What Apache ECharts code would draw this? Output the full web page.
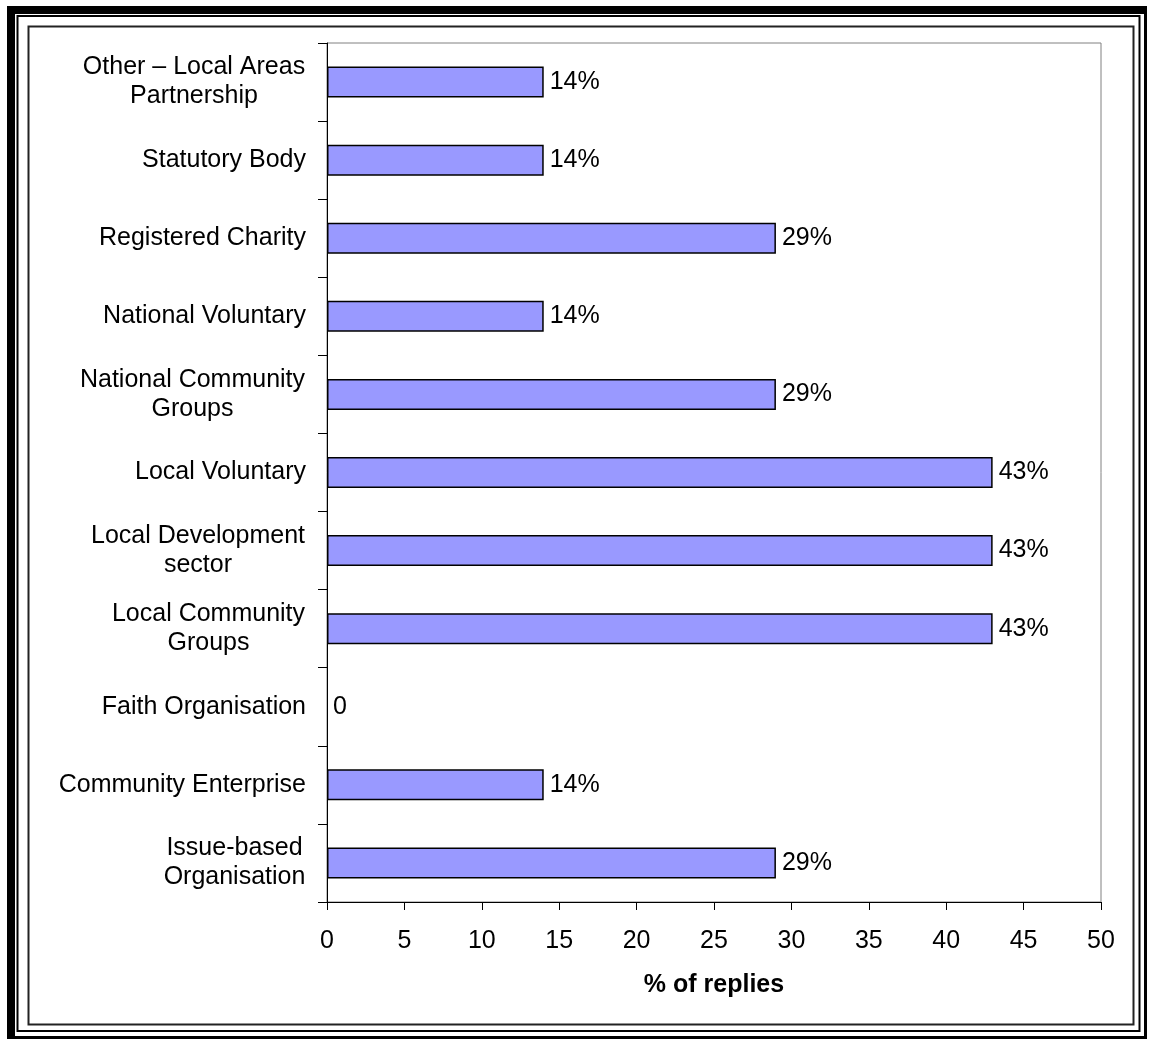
<!DOCTYPE html>
<html>
<head>
<meta charset="utf-8">
<style>
  html, body { margin: 0; padding: 0; background: #fff; }
  #chart { width: 1151px; height: 1039px; }
</style>
<script src="https://cdn.jsdelivr.net/npm/echarts@6/dist/echarts.min.js"></script>
</head>
<body>
<div id="chart"></div>
<script>
// Organisation types, listed bottom to top as they appear on the axis
const categories = [
  'Issue-based\nOrganisation',
  'Community Enterprise',
  'Faith Organisation',
  'Local Community\nGroups',
  'Local Development\nsector',
  'Local Voluntary',
  'National Community\nGroups',
  'National Voluntary',
  'Registered Charity',
  'Statutory Body',
  'Other \u2013 Local Areas\nPartnership'
];

// Share of replies (%) for each organisation type
const replies = [29, 14, 0, 43, 43, 43, 29, 14, 29, 14, 14];

// Value axis ticks
const axisMin = 0;
const axisMax = 50;
const axisStep = 5;

const FONT = '"Liberation Sans", Arial, Helvetica, sans-serif';
const FONT_SIZE = 25;
const LINE_HEIGHT = 29;

// Multi-line category labels: each line is centred within the block,
// and the block is right-aligned against the axis.
const measureCtx = document.createElement('canvas').getContext('2d');
measureCtx.font = FONT_SIZE + 'px ' + FONT;
const rich = {};
categories.forEach(function (c, i) {
  const lines = c.split('\n');
  const w = Math.max.apply(null, lines.map(function (l) { return measureCtx.measureText(l).width; }));
  rich['c' + i] = {
    width: Math.ceil(w) + 1,
    align: 'center',
    fontFamily: FONT,
    fontSize: FONT_SIZE,
    lineHeight: LINE_HEIGHT,
    color: '#000'
  };
});

// A zero-length bar draws nothing, only its value label
const barData = replies.map(function (v) {
  return v === 0 ? { value: v, itemStyle: { borderWidth: 0 } } : v;
});

const chart = echarts.init(document.getElementById('chart'), null, { renderer: 'canvas' });

chart.setOption({
  animation: false,
  backgroundColor: '#fff',
  textStyle: { fontFamily: FONT },
  grid: {
    left: 327,
    right: 50,
    top: 43,
    bottom: 137,
    show: true,
    borderColor: '#808080',
    borderWidth: 1,
    containLabel: false
  },
  xAxis: {
    type: 'value',
    min: axisMin,
    max: axisMax,
    interval: axisStep,
    name: '% of replies',
    nameLocation: 'middle',
    nameGap: 71,
    nameTextStyle: {
      fontFamily: FONT,
      fontSize: FONT_SIZE,
      fontWeight: 'bold',
      color: '#000'
    },
    axisLine: { show: true, lineStyle: { color: '#000', width: 1 } },
    axisTick: { show: true, length: 8, lineStyle: { color: '#000' } },
    axisLabel: {
      margin: 27,
      fontFamily: FONT,
      fontSize: FONT_SIZE,
      color: '#000'
    },
    splitLine: { show: false }
  },
  yAxis: {
    type: 'category',
    data: categories,
    axisLine: { show: true, lineStyle: { color: '#000', width: 1 } },
    axisTick: { show: true, length: 9, lineStyle: { color: '#000' } },
    axisLabel: {
      margin: 21,
      align: 'right',
      fontFamily: FONT,
      fontSize: FONT_SIZE,
      color: '#000',
      lineHeight: LINE_HEIGHT,
      formatter: function (value, index) {
        const lines = value.split('\n');
        if (lines.length === 1) return value;
        return lines.map(function (l) { return '{c' + index + '|' + l + '}'; }).join('\n');
      },
      rich: rich
    },
    splitLine: { show: false }
  },
  series: [{
    type: 'bar',
    data: barData,
    barWidth: 31,
    itemStyle: {
      color: '#9999FF',
      borderColor: '#000',
      borderWidth: 1.5
    },
    label: {
      show: true,
      position: 'right',
      distance: 6,
      fontFamily: FONT,
      fontSize: FONT_SIZE,
      color: '#000',
      formatter: function (p) { return p.value === 0 ? '0' : p.value + '%'; }
    }
  }],
  graphic: [
    // heavy outer frame
    { type: 'rect', silent: true, z: -10, shape: { x: 7, y: 6, width: 1140, height: 1033 }, style: { fill: '#000' } },
    { type: 'rect', silent: true, z: -9, shape: { x: 15, y: 14, width: 1129, height: 1022 }, style: { fill: '#fff' } },
    // thin line inside the heavy frame
    { type: 'rect', silent: true, z: -8, shape: { x: 17.5, y: 16, width: 1122, height: 1015 }, style: { fill: null, stroke: '#000', lineWidth: 2 } },
    // chart area border
    { type: 'rect', silent: true, z: -7, shape: { x: 28.5, y: 26.5, width: 1105, height: 998 }, style: { fill: '#fff', stroke: '#222', lineWidth: 2 } }
  ]
});
</script>
</body>
</html>
